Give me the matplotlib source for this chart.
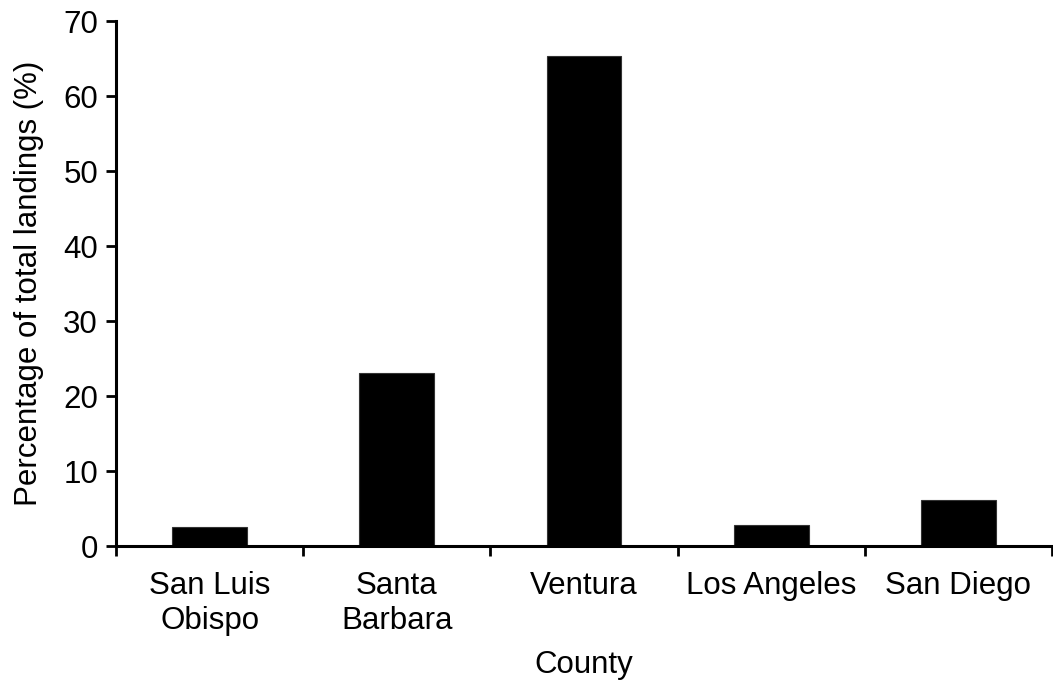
import matplotlib
matplotlib.use("Agg")
import matplotlib.pyplot as plt
import numpy as np

plt.rcParams['font.family'] = ['Liberation Sans', 'DejaVu Sans']

categories = ["San Luis\nObispo", "Santa\nBarbara", "Ventura", "Los Angeles", "San Diego"]
values = [2.6, 23.1, 65.3, 2.8, 6.2]
yticks = [0, 10, 20, 30, 40, 50, 60, 70]

fig = plt.figure(figsize=(10.53, 6.81), dpi=100)
ax = fig.add_axes([0.1102, 0.198, 0.8888, 0.771])

x = np.arange(len(categories))
ax.bar(x, values, width=0.4, color='black', edgecolor='#333333', linewidth=0.8)

ax.set_xlim(-0.5, 4.44)
ax.set_ylim(0, 70)
ax.set_yticks(yticks)
ax.set_xticks(x)
ax.set_xticklabels(categories, fontsize=22.5, linespacing=1.2)
ax.set_xticks(np.arange(-0.5, 4.6, 1.0), minor=True)
ax.tick_params(axis='x', which='major', length=0, pad=18)
ax.tick_params(axis='x', which='minor', length=7, width=2, direction='out')
ax.tick_params(axis='y', length=7, width=2, direction='out', labelsize=22.5, pad=6)

for s in ['top', 'right']:
    ax.spines[s].set_visible(False)
for s in ['left', 'bottom']:
    ax.spines[s].set_linewidth(2.2)

ax.set_ylabel("Percentage of total landings (%)", fontsize=22.5, labelpad=14)
ax.set_xlabel("County", fontsize=22.5, labelpad=10)

fig.savefig("out.png", dpi=100)
